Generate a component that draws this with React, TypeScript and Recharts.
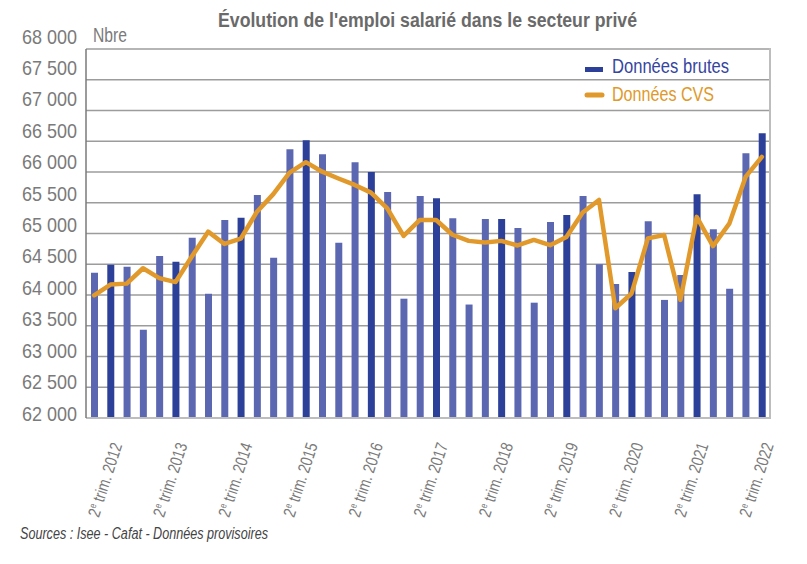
import { Bar, Cell, ComposedChart, Line, XAxis, YAxis, CartesianGrid } from "recharts";

// Trimestres T1 2012 -> T2 2022
const years = [2012, 2013, 2014, 2015, 2016, 2017, 2018, 2019, 2020, 2021, 2022];

const brutes = [
  64360, 64490, 64460, 63435,
  64635, 64540, 64930, 64020,
  65220, 65255, 65625, 64605,
  66370, 66515, 66290, 64850,
  66160, 66000, 65675, 63940,
  65610, 65575, 65250, 63845,
  65235, 65235, 65090, 63875,
  65185, 65300, 65610, 64500,
  64180, 64375, 65200, 63920,
  64325, 65640, 65070, 64100,
  66305, 66630,
];

const cvs = [
  63995, 64170, 64185, 64435,
  64275, 64210, 64625, 65030,
  64830, 64915, 65355, 65640,
  65990, 66160, 66005, 65895,
  65790, 65665, 65410, 64960,
  65220, 65220, 64980, 64880,
  64855, 64880, 64805, 64895,
  64810, 64945, 65340, 65545,
  63785, 64025, 64920, 64975,
  63920, 65270, 64795, 65160,
  65920, 66245,
];

const yTicks = [62000, 62500, 63000, 63500, 64000, 64500, 65000, 65500, 66000, 66500, 67000, 67500, 68000];

const LIGHT = "#5b67b1";
const DARK = "#2c4099";
const ORANGE = "#e0992a";
const FONT = "'Liberation Sans', Arial, sans-serif";

const data = brutes.map((v, i) => ({
  key: `${years[Math.floor(i / 4)]}T${(i % 4) + 1}`,
  q: (i % 4) + 1,
  brutes: v,
  cvs: cvs[i],
}));

const xTicks = data.filter((d) => d.q === 2).map((d) => d.key);

const fmt = (v: number) => `${Math.floor(v / 1000)} ${String(v % 1000).padStart(3, "0")}`;

// pas de police condensée installée : on resserre le texte avec textLength
function Txt({ x, y, w, size, fill, weight, italic, anchor, children }: any) {
  return (
    <text
      x={x}
      y={y}
      textLength={w}
      lengthAdjust="spacingAndGlyphs"
      textAnchor={anchor || "start"}
      fontSize={size}
      fill={fill}
      fontWeight={weight || "normal"}
      fontStyle={italic ? "italic" : "normal"}
      fontFamily={FONT}
    >
      {children}
    </text>
  );
}

function YTick({ x, y, payload }: any) {
  // les libellés remontent un peu vers le haut de l'axe
  const off = -5 - (8 * (payload.value - 62000)) / 6000;
  return (
    <Txt x={x - 56} y={y + off + 7.5} w={55} size={21} fill="#7a7a7a">
      {fmt(payload.value)}
    </Txt>
  );
}

function XTick({ x, y, payload }: any) {
  const year = payload.value.slice(0, 4);
  return (
    <g transform={`translate(${x + 12},${y + 19}) rotate(-72)`}>
      <text x={-77} textLength={77} lengthAdjust="spacingAndGlyphs" fontSize={17} fill="#7a7a7a" fontFamily={FONT}>
        <tspan>2</tspan>
        <tspan dy={-6} fontSize={10}>e</tspan>
        <tspan dy={6}>{` trim. ${year}`}</tspan>
      </text>
    </g>
  );
}

export default function App() {
  return (
    <div style={{ position: "absolute", left: 0, top: 0, width: 807, height: 564, background: "#fff" }}>
      <ComposedChart width={807} height={564} data={data} margin={{ top: 49, right: 37, left: 0, bottom: 0 }}>
        <CartesianGrid vertical={false} stroke="#9c9c9c" strokeWidth={1.5} />
        <XAxis
          dataKey="key"
          ticks={xTicks}
          interval={0}
          height={146}
          tick={<XTick />}
          tickLine={false}
          axisLine={{ stroke: "#bdbdbd", strokeWidth: 2 }}
        />
        <YAxis
          domain={[62000, 68000]}
          ticks={yTicks}
          width={86}
          tick={<YTick />}
          tickLine={false}
          axisLine={{ stroke: "#7a7a7a", strokeWidth: 1.5 }}
        />
        <Bar dataKey="brutes" barSize={7} isAnimationActive={false}>
          {data.map((d) => (
            <Cell key={d.key} fill={d.q === 2 ? DARK : LIGHT} />
          ))}
        </Bar>
        <Line
          dataKey="cvs"
          type="linear"
          stroke={ORANGE}
          strokeWidth={4.5}
          strokeLinejoin="round"
          strokeLinecap="round"
          dot={false}
          isAnimationActive={false}
        />
        <Txt x={218} y={27} w={419} size={20} weight="bold" fill="#6a6a6a">
          Évolution de l'emploi salarié dans le secteur privé
        </Txt>
        <Txt x={93} y={42} w={34} size={20} fill="#7a7a7a">
          Nbre
        </Txt>
        <Txt x={20} y={539} w={248} size={16} italic fill="#444">
          Sources : Isee - Cafat - Données provisoires
        </Txt>
        <rect x={585} y={67} width={18} height={5} fill={DARK} />
        <Txt x={612} y={73} w={117} size={21} fill="#3545a0">
          Données brutes
        </Txt>
        <line x1={587} y1={95} x2={602} y2={95} stroke={ORANGE} strokeWidth={5} strokeLinecap="round" />
        <Txt x={612} y={101} w={102} size={21} fill={ORANGE}>
          Données CVS
        </Txt>
      </ComposedChart>
      <div style={{ position: "absolute", left: 769, top: 48, width: 2, height: 371, background: "#bdbdbd" }} />
    </div>
  );
}
